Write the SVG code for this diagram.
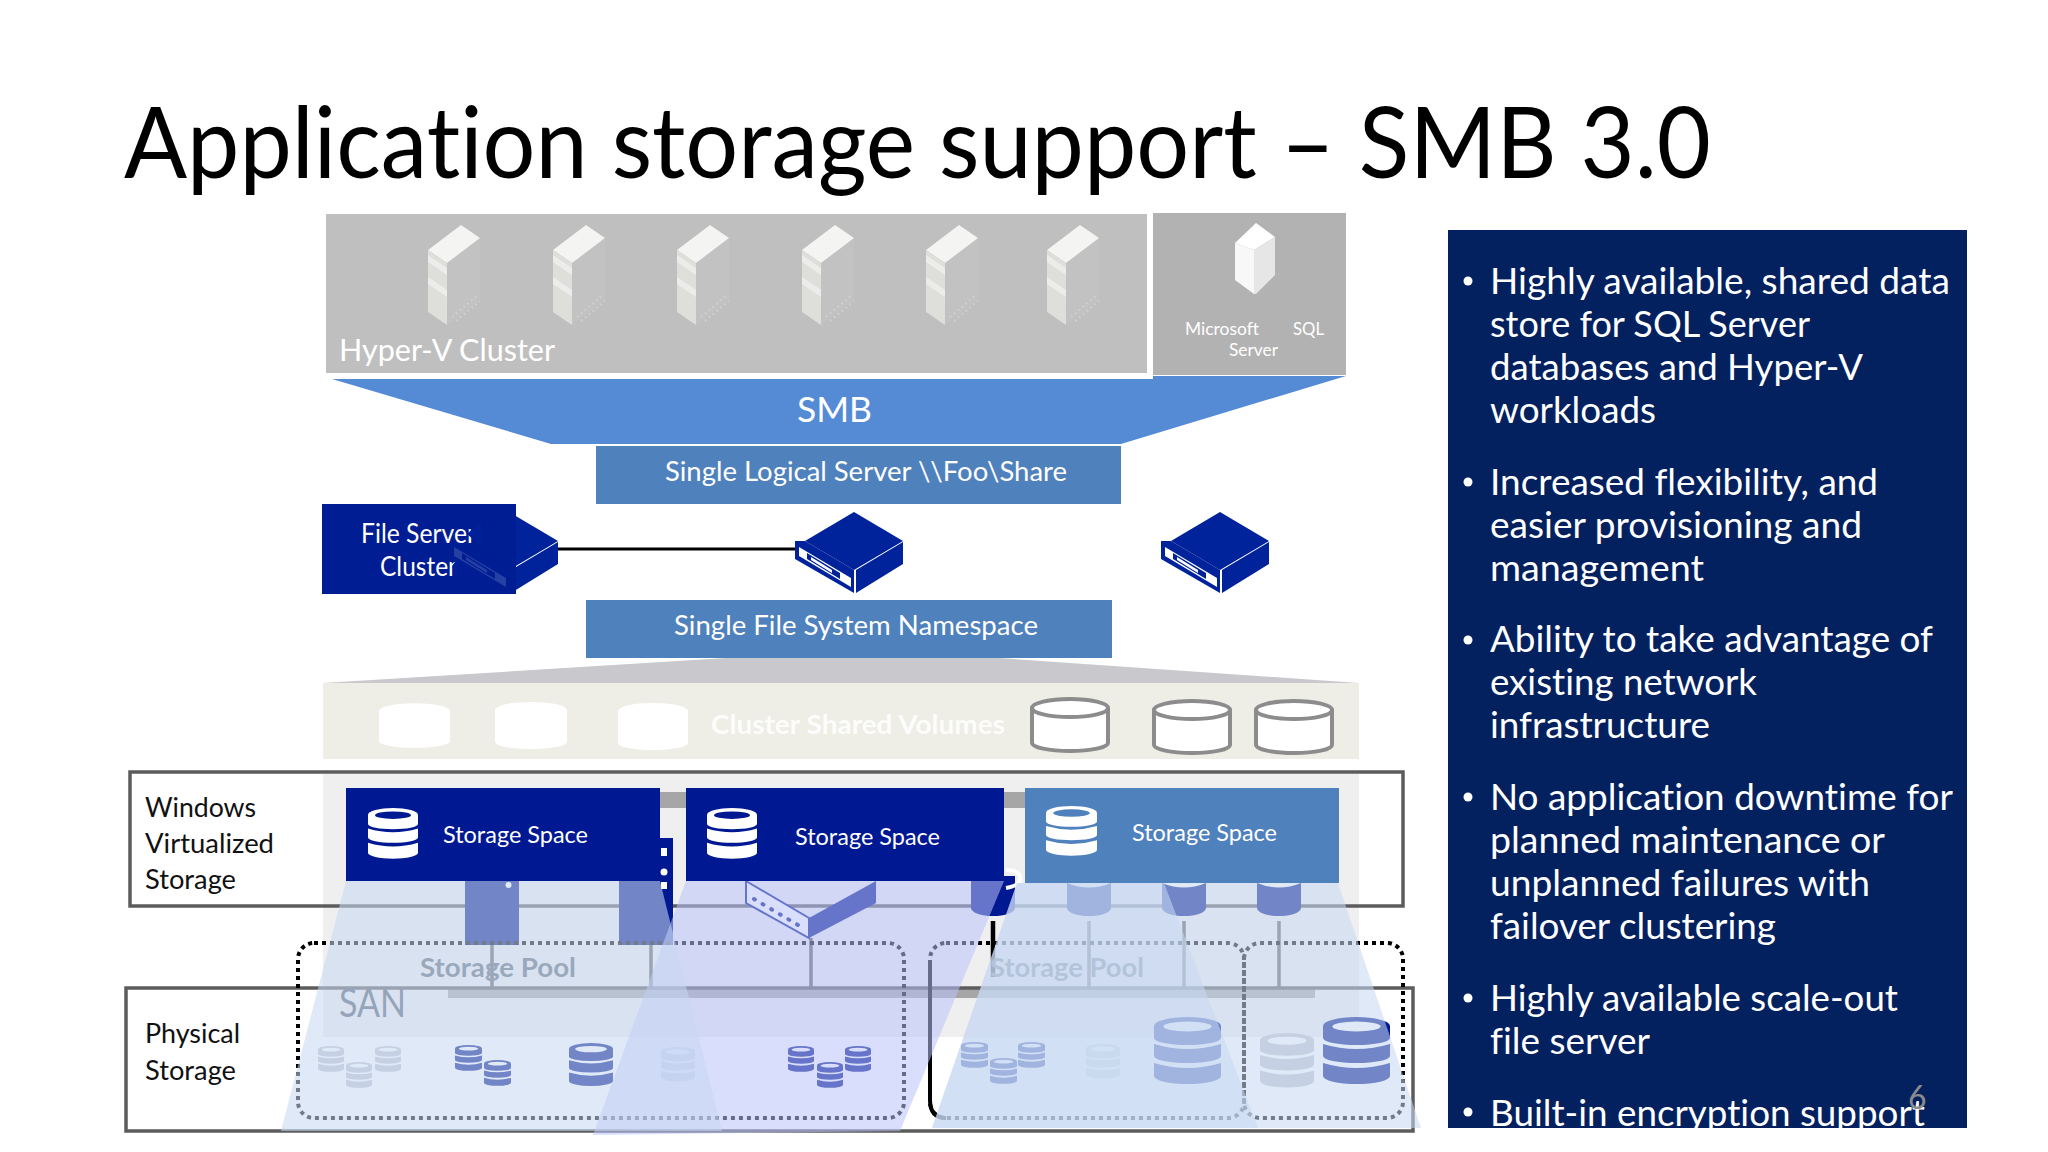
<svg xmlns="http://www.w3.org/2000/svg" xmlns:xlink="http://www.w3.org/1999/xlink" width="2048" height="1152" viewBox="0 0 2048 1152">
<style>
text{font-family:"Lato","Carlito","Liberation Sans",sans-serif;fill:#fff;font-variant-ligatures:none}
.blk{fill:#000}
.b{font-size:36px}
.l{font-size:27px;fill:#111}
.ss{font-size:22.5px}
.frame{fill:none;stroke:#5c5c5c;stroke-width:3.5}
.dot{fill:none;stroke:#000;stroke-width:4;stroke-dasharray:4 4}
.conn{stroke:#5f5f5f;stroke-width:3.5;fill:none}
</style>
<defs>
<symbol id="disk" viewBox="0 0 50 70" preserveAspectRatio="none">
<path fill="currentColor" d="M0 9a25 9 0 0 1 50 0v12a25 7 0 0 1-50 0z"/>
<path fill="currentColor" d="M0 27q25 10 50 0v12a25 7 0 0 1-50 0z"/>
<path fill="currentColor" d="M0 46q25 10 50 0v13a25 8 0 0 1-50 0z"/>
<ellipse cx="25" cy="9.500" rx="18" ry="5" style="fill:var(--t,#ffffff)"/>
</symbol>
<symbol id="tower" viewBox="0 0 60 105" overflow="visible">
<path fill="#c2c2c2" d="M19 38L52 13V75L19 100z"/>
<path fill="#f4f4f2" d="M0 25L33 0L52 13L19 38z"/>
<path fill="#dededb" d="M0 25L19 38V100L0 87z"/>
<path fill="#ececea" d="M0 30L19 43V50L0 37zM0 52L19 65V72L0 59z"/>
<path fill="none" stroke="#cfcfcf" stroke-width="2" stroke-dasharray="2 3" d="M24 92L50 70M28 96L52 76"/>
</symbol>
<g id="srv">
<path fill="#00229a" d="M854 512L903 541L854 570L805 541z"/>
<path fill="#00229a" d="M856 570L903 542V564L856 593z"/>
<path fill="#00229a" d="M795 541L805 541L854 570V593L795 559z"/>
<path fill="#fff" d="M799 547L851 578V587L799 556z"/>
<path fill="#00229a" d="M807 553L840 573V579L807 559z"/>
<path fill="#fff" d="M811 557L832 570V573L811 560z"/>
</g>
<clipPath id="panelClip"><rect x="1448" y="230" width="519" height="898"/></clipPath>
</defs>
<rect width="2048" height="1152" fill="#fff"/>

<text id="title" class="blk" x="124" y="178" font-size="99" textLength="1587" lengthAdjust="spacingAndGlyphs">Application storage support – SMB 3.0</text>

<g id="hyperv-cluster">
<rect x="326" y="214" width="821" height="159" fill="#bfbfbf"/>
<use href="#tower" x="428" y="225" width="60" height="105"/>
<use href="#tower" x="553" y="225" width="60" height="105"/>
<use href="#tower" x="677" y="225" width="60" height="105"/>
<use href="#tower" x="802" y="225" width="60" height="105"/>
<use href="#tower" x="926" y="225" width="60" height="105"/>
<use href="#tower" x="1047" y="225" width="60" height="105"/>
<text x="339" y="361" font-size="31" textLength="216" lengthAdjust="spacingAndGlyphs">Hyper-V Cluster</text>
</g>
<g id="sql-server">
<rect x="1153" y="213" width="193" height="162" fill="#b2b2b2"/>
<path fill="#fff" d="M1256 223L1275 237L1254 250L1235 243z"/>
<path fill="#f8f8f8" d="M1235 243L1254 250V294L1235 280z"/>
<path fill="#e6e6e6" d="M1254 250L1275 237V275L1256 294H1254z"/>
<text x="1185" y="335" font-size="18" textLength="74" lengthAdjust="spacingAndGlyphs">Microsoft</text>
<text x="1293" y="335" font-size="18" textLength="31" lengthAdjust="spacingAndGlyphs">SQL</text>
<text x="1229" y="356" font-size="18" textLength="49" lengthAdjust="spacingAndGlyphs">Server</text>
</g>
<g id="smb">
<path fill="#558bd5" d="M332 379H1153V376H1346L1121 444H551z"/>
<text x="797" y="422" font-size="35" textLength="75" lengthAdjust="spacingAndGlyphs">SMB</text>
</g>
<g id="logical-server">
<rect x="596" y="446" width="525" height="58" fill="#4f81bd"/>
<text x="665" y="481" font-size="27" textLength="402" lengthAdjust="spacingAndGlyphs">Single Logical Server \\Foo\Share</text>
</g>

<g id="connector-top">
<line x1="555" y1="549" x2="797" y2="549" stroke="#000" stroke-width="3"/>
</g>

<g id="file-server-cluster">
<rect x="322" y="504" width="194" height="90" fill="#001d93"/>
<use href="#srv" x="-345" y="0"/>
<rect x="450" y="504" width="66" height="90" fill="#001d93" opacity=".85"/>
<text x="361" y="543" font-size="26" textLength="115" lengthAdjust="spacingAndGlyphs">File Server</text>
<text x="380" y="576" font-size="26" textLength="77" lengthAdjust="spacingAndGlyphs">Cluster</text>
<path fill="#00209a" d="M481 521L467 534L481 546z"/>
<path fill="#00209a" d="M458 558L452 566L458 578z"/>
</g>
<g id="server-2"><use href="#srv"/></g>
<g id="server-3"><use href="#srv" x="366"/></g>

<g id="namespace">
<rect x="586" y="600" width="526" height="58" fill="#4f81bd"/>
<text x="674" y="635" font-size="27" textLength="364" lengthAdjust="spacingAndGlyphs">Single File System Namespace</text>
</g>
<path id="funnel" fill="#c9c9cd" d="M323 683L726 658H999L1359 683z"/>

<g id="csv">
<rect x="323" y="683" width="1036" height="76" fill="#eeeee6"/>
<g fill="#fff">
<path d="M379 710a36 8 0 0 1 71 0v32a36 7 0 0 1-71 0z"/>
<path d="M495 710a36 8 0 0 1 72 0v32a36 7 0 0 1-72 0z"/>
<path d="M618 711a35 8 0 0 1 70 0v32a35 7 0 0 1-70 0z"/>
</g>
<text x="711" y="734" font-size="27" font-weight="700" textLength="294" lengthAdjust="spacingAndGlyphs" opacity=".9">Cluster Shared Volumes</text>
<g fill="#fff" stroke="#8c8c8c" stroke-width="4">
<path d="M1032 708a38 9 0 0 1 76 0v35a38 8 0 0 1-76 0z"/><path d="M1032 708a38 9 0 0 0 76 0"/>
<path d="M1154 710a38 9 0 0 1 76 0v35a38 8 0 0 1-76 0z"/><path d="M1154 710a38 9 0 0 0 76 0"/>
<path d="M1256 710a38 9 0 0 1 76 0v35a38 8 0 0 1-76 0z"/><path d="M1256 710a38 9 0 0 0 76 0"/>
</g>
</g>

<rect id="virt-band" x="323" y="774" width="1036" height="263" fill="#f0eff0"/>
<rect id="pool-strip" x="660" y="792" width="344" height="16" fill="#a6a6a6"/>
<rect id="pool-strip-2" x="1004" y="792" width="21" height="16" fill="#a6a6a6"/>
<rect id="pool-bar" x="448" y="987" width="867" height="11" fill="#a6a6a6"/>

<g id="pool-connectors">
<path class="conn" d="M492 945V987M651 945V987M811 938V987M1089 921V987M1184 921V987M1279 921V987"/>
<path d="M993 921V977" stroke="#000" stroke-width="4.500" fill="none"/>
</g>

<rect id="windows-frame" class="frame" x="130" y="772" width="1273" height="134"/>
<rect id="physical-frame" class="frame" x="126" y="988" width="1287" height="143"/>

<g id="row-labels">
<text class="l" x="145" y="817" textLength="111" lengthAdjust="spacingAndGlyphs">Windows</text>
<text class="l" x="145" y="853" textLength="129" lengthAdjust="spacingAndGlyphs">Virtualized</text>
<text class="l" x="145" y="889" textLength="91" lengthAdjust="spacingAndGlyphs">Storage</text>
<text class="l" x="145" y="1043" textLength="95" lengthAdjust="spacingAndGlyphs">Physical</text>
<text class="l" x="145" y="1080" textLength="91" lengthAdjust="spacingAndGlyphs">Storage</text>
</g>

<g id="pool-labels">
<text x="420" y="977" font-size="27" font-weight="700" style="fill:#5f6a76" textLength="156" lengthAdjust="spacingAndGlyphs">Storage Pool</text>
<text x="990" y="977" font-size="27" font-weight="700" style="fill:#5f6a76" textLength="154" lengthAdjust="spacingAndGlyphs">Storage Pool</text>
<text x="339" y="1017" font-size="40" style="fill:#556070" textLength="67" lengthAdjust="spacingAndGlyphs">SAN</text>
</g>

<g id="hardware">
<rect x="465" y="881" width="54" height="64" fill="#001891"/>
<rect x="619" y="838" width="54" height="107" fill="#001891"/>
<circle cx="508.500" cy="885" r="3" fill="#fff"/>
<rect x="661" y="848" width="6" height="8" fill="#fff"/>
<circle cx="664" cy="872" r="3.500" fill="#fff"/>
<rect x="661" y="882" width="6" height="7" fill="#fff"/>
<path fill="#001891" d="M809 938L876 903V881L809 918z"/>
<path fill="#fff" stroke="#001891" stroke-width="2" d="M746 881L809 918V938L746 903z"/>
<path fill="none" stroke="#001891" stroke-width="4" stroke-linecap="round" stroke-dasharray="1 9" d="M754 899L803 928"/>
<path fill="#001891" d="M971 876H1015V908a22 8 0 0 1-44 0z"/>
<path fill="none" stroke="#fff" stroke-width="4" d="M1006 870Q1021 870 1020 880Q1018 886 1006 888"/>
<path fill="#001891" d="M1067 883H1111V908a22 8 0 0 1-44 0z"/>
<path fill="#001891" d="M1162 883H1206V908a22 8 0 0 1-44 0z"/>
<path fill="#001891" d="M1257 883H1301V908a22 8 0 0 1-44 0z"/>
<path fill="#fff" d="M1067 883Q1089 892 1111 883zM1162 883Q1184 892 1206 883zM1257 883Q1279 892 1301 883z"/>
</g>

<g id="physical-disks">
<g style="color:#c2c7ce">
<use href="#disk" x="318" y="1046" width="26" height="27"/>
<use href="#disk" x="375" y="1046" width="26" height="27"/>
<use href="#disk" x="346" y="1062" width="26" height="27"/>
<use href="#disk" x="661" y="1047" width="34" height="36" style="color:#d4d9e0"/>
<use href="#disk" x="1086" y="1044" width="34" height="36" style="color:#d4d9e0"/>
<use href="#disk" x="1260" y="1033" width="54" height="57"/>
</g>
<g style="color:#001891">
<use href="#disk" x="455" y="1045" width="27" height="27"/>
<use href="#disk" x="484" y="1060" width="27" height="27"/>
<use href="#disk" x="569" y="1043" width="44" height="45"/>
<use href="#disk" x="788" y="1046" width="26" height="27"/>
<use href="#disk" x="845" y="1046" width="26" height="27"/>
<use href="#disk" x="817" y="1062" width="26" height="27"/>
<use href="#disk" x="1323" y="1017" width="67" height="70"/>
<use href="#disk" x="961" y="1042" width="27" height="27"/>
<use href="#disk" x="1018" y="1042" width="27" height="27"/>
<use href="#disk" x="990" y="1058" width="27" height="27"/>
<use href="#disk" x="1154" y="1017" width="67" height="70"/>
</g>
</g>

<g id="storage-pools">
<rect class="dot" x="298" y="943" width="606" height="175" rx="16"/>
<rect class="dot" x="930" y="943" width="314" height="175" rx="16"/>
<rect class="dot" x="1244" y="943" width="159" height="175" rx="16"/>
<path d="M946 1118Q930 1118 930 1100V960" fill="none" stroke="#000" stroke-width="4"/>
</g>

<g id="projections">
<path fill="#bac3fa" opacity=".55" d="M686 881H1004L900 1131L593 1135z"/>
<path fill="#c6d9f1" opacity=".57" d="M346 881H660L722 1131H281z"/>
<path fill="#c6d9f1" opacity=".57" d="M1017 883H1338L1421 1128H932z"/>
<path fill="#c6d9f1" opacity=".57" d="M1017 883H1164L1258 1128H932z"/>
</g>

<g id="storage-space-1">
<rect x="346" y="788" width="314" height="93" fill="#001891"/>
<use href="#disk" x="368" y="808" width="50" height="53" style="color:#fff;--t:#001891"/>
<text class="ss" x="443" y="843" textLength="145" lengthAdjust="spacingAndGlyphs">Storage Space</text>
</g>
<g id="storage-space-2">
<rect x="686" y="788" width="318" height="93" fill="#001891"/>
<use href="#disk" x="707" y="808" width="50" height="53" style="color:#fff;--t:#001891"/>
<text class="ss" x="795" y="845" textLength="145" lengthAdjust="spacingAndGlyphs">Storage Space</text>
</g>
<g id="storage-space-3">
<rect x="1025" y="788" width="314" height="95" fill="#4f81bd"/>
<use href="#disk" x="1046" y="806" width="51" height="52" style="color:#fff;--t:#4f81bd"/>
<text class="ss" x="1132" y="841" textLength="145" lengthAdjust="spacingAndGlyphs">Storage Space</text>
</g>

<g id="benefits">
<rect x="1448" y="230" width="519" height="898" fill="#03205f"/>
<g clip-path="url(#panelClip)">
<g fill="#fff">
<circle cx="1468" cy="281" r="4.500"/><circle cx="1468" cy="482" r="4.500"/><circle cx="1468" cy="640" r="4.500"/><circle cx="1468" cy="797" r="4.500"/><circle cx="1468" cy="998" r="4.500"/><circle cx="1468" cy="1112" r="4.500"/>
</g>
<text class="b" x="1490" y="294" textLength="460" lengthAdjust="spacingAndGlyphs">Highly available, shared data</text>
<text class="b" x="1490" y="337" textLength="320" lengthAdjust="spacingAndGlyphs">store for SQL Server</text>
<text class="b" x="1490" y="380" textLength="373" lengthAdjust="spacingAndGlyphs">databases and Hyper-V</text>
<text class="b" x="1490" y="423" textLength="166" lengthAdjust="spacingAndGlyphs">workloads</text>
<text class="b" x="1490" y="495" textLength="388" lengthAdjust="spacingAndGlyphs">Increased flexibility, and</text>
<text class="b" x="1490" y="538" textLength="372" lengthAdjust="spacingAndGlyphs">easier provisioning and</text>
<text class="b" x="1490" y="581" textLength="214" lengthAdjust="spacingAndGlyphs">management</text>
<text class="b" x="1490" y="652" textLength="443" lengthAdjust="spacingAndGlyphs">Ability to take advantage of</text>
<text class="b" x="1490" y="695" textLength="267" lengthAdjust="spacingAndGlyphs">existing network</text>
<text class="b" x="1490" y="738" textLength="220" lengthAdjust="spacingAndGlyphs">infrastructure</text>
<text class="b" x="1490" y="810" textLength="463" lengthAdjust="spacingAndGlyphs">No application downtime for</text>
<text class="b" x="1490" y="853" textLength="395" lengthAdjust="spacingAndGlyphs">planned maintenance or</text>
<text class="b" x="1490" y="896" textLength="380" lengthAdjust="spacingAndGlyphs">unplanned failures with</text>
<text class="b" x="1490" y="939" textLength="286" lengthAdjust="spacingAndGlyphs">failover clustering</text>
<text class="b" x="1490" y="1011" textLength="408" lengthAdjust="spacingAndGlyphs">Highly available scale-out</text>
<text class="b" x="1490" y="1054" textLength="160" lengthAdjust="spacingAndGlyphs">file server</text>
<text class="b" x="1490" y="1126" textLength="435" lengthAdjust="spacingAndGlyphs">Built-in encryption support</text>
</g>
<text id="page-number" x="1908" y="1109" font-size="32" style="fill:#8b8b8b">6</text>
</g>
</svg>
